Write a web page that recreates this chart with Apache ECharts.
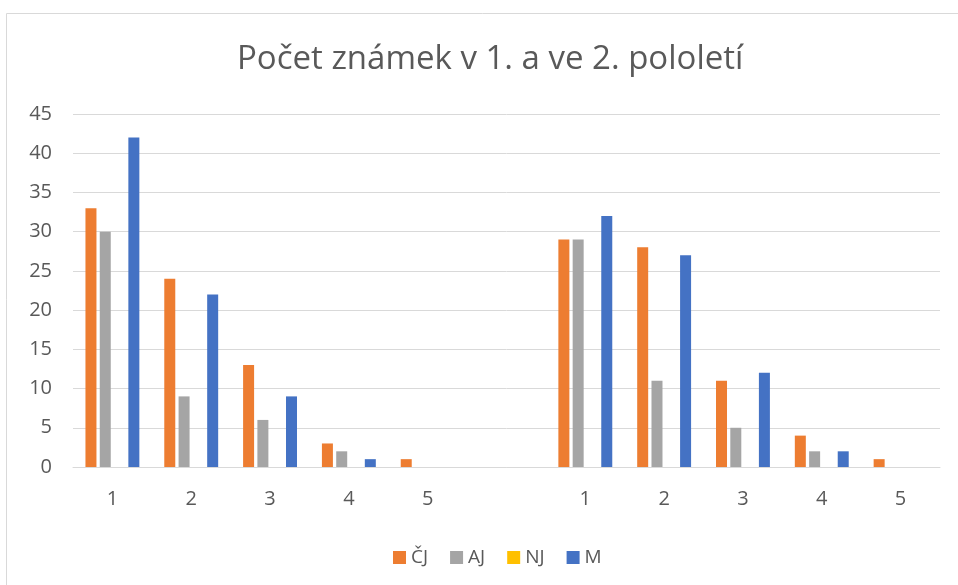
<!DOCTYPE html>
<html>
<head>
    <meta charset="utf-8">
    <title>Počet známek</title>
    <script src="https://cdn.jsdelivr.net/npm/echarts@6/dist/echarts.min.js"></script>
    <style>
        html, body { margin: 0; padding: 0; background: #fff; }
    </style>
</head>
<body>
    <div id="main" style="width: 958px;height:585px;"></div>
    <script type="text/javascript">
    // kategorie: známky 1-5 za 1. pololetí, mezera, 1-5 za 2. pololetí
    var categories = ['1', '2', '3', '4', '5', '', '1', '2', '3', '4', '5'];
    var cjData = [33, 24, 13, 3, 1, null, 29, 28, 11, 4, 1];
    var ajData = [30, 9, 6, 2, 0, null, 29, 11, 5, 2, 0];
    var njData = [0, 0, 0, 0, 0, null, 0, 0, 0, 0, 0];
    var mData  = [42, 22, 9, 1, 0, null, 32, 27, 12, 2, 0];

    var myChart = echarts.init(document.getElementById('main'));

    var font = '"Open Sans", "Noto Sans", sans-serif';

    var option = {
        animation: false,
        textStyle: { fontFamily: font },
        graphic: [{
            type: 'rect',
            shape: { x: 6.5, y: 13.5, width: 960, height: 600 },
            style: { fill: 'none', stroke: '#d9d9d9', lineWidth: 1 }
        }],
        title: {
            text: 'Počet známek v 1. a ve 2. pololetí',
            left: 232,
            top: 38,
            textStyle: { fontFamily: font, fontSize: 33, fontWeight: 'normal', color: '#595959' }
        },
        legend: {
            top: 543,
            left: 388,
            itemWidth: 13,
            itemHeight: 13,
            itemGap: 22,
            icon: 'rect',
            textStyle: { fontFamily: font, fontSize: 19, color: '#595959' },
            data: ['ČJ', 'AJ', 'NJ', 'M']
        },
        grid: { left: 73, right: 18, top: 114, bottom: 118 },
        xAxis: {
            type: 'category',
            data: categories,
            axisLine: { lineStyle: { color: '#d9d9d9', width: 1 } },
            axisTick: { show: false },
            axisLabel: { color: '#595959', fontSize: 20, margin: 22, interval: 0 }
        },
        yAxis: {
            type: 'value',
            min: 0,
            max: 45,
            interval: 5,
            axisLine: { show: false },
            axisTick: { show: false },
            splitLine: { lineStyle: { color: '#d9d9d9', width: 1 } },
            axisLabel: { color: '#595959', fontSize: 20, margin: 21 }
        },
        series: [
            { name: 'ČJ', type: 'bar', data: cjData, barWidth: 11, barGap: '30%', itemStyle: { color: '#ED7D31' } },
            { name: 'AJ', type: 'bar', data: ajData, barWidth: 11, barGap: '30%', itemStyle: { color: '#A5A5A5' } },
            { name: 'NJ', type: 'bar', data: njData, barWidth: 11, barGap: '30%', itemStyle: { color: '#FFC000' } },
            { name: 'M', type: 'bar', data: mData, barWidth: 11, barGap: '30%', itemStyle: { color: '#4472C4' } }
        ]
    };

    myChart.setOption(option);
    </script>
</body>
</html>
